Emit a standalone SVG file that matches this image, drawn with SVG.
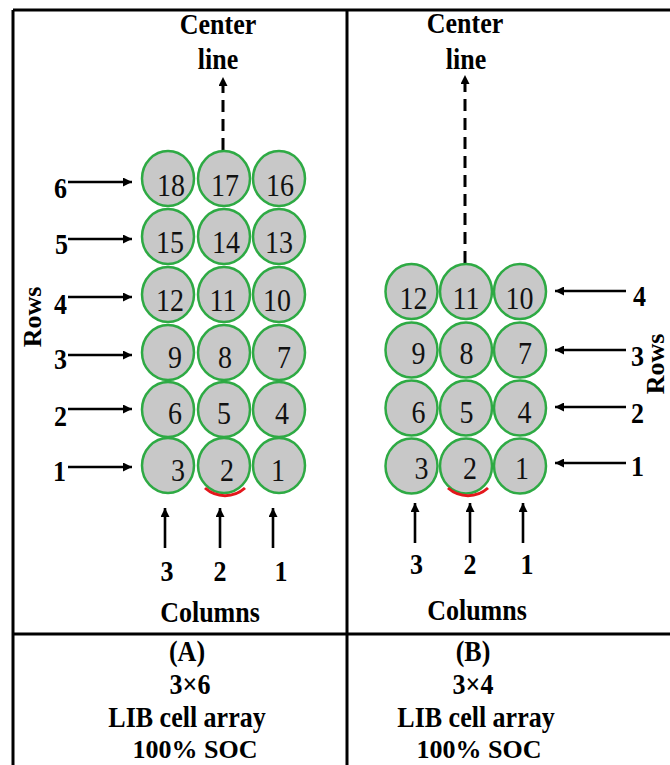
<svg xmlns="http://www.w3.org/2000/svg" width="670" height="765" viewBox="0 0 670 765">
<style>
.cell{fill:#c8c8c8;stroke:#2eaa44;stroke-width:2.5}
.num{font-family:"Liberation Serif",serif;font-size:28px;fill:#111;text-anchor:middle}
.lbl{font-family:"Liberation Serif",serif;font-weight:bold;font-size:26px;fill:#000}
.sy{transform-box:fill-box;transform-origin:center;transform:scaleY(1.12)}
.mid{text-anchor:middle}
.arr{stroke:#000;stroke-width:2.6;fill:none}
.dash{stroke:#000;stroke-width:3;stroke-dasharray:12 7;fill:none}
.red{stroke:#e3171c;stroke-width:3;fill:none}
.frame{stroke:#000;stroke-width:3;fill:none}
</style>
<defs>
<marker id="ah" viewBox="0 0 10 10" refX="10" refY="5" markerWidth="10" markerHeight="9" markerUnits="userSpaceOnUse" orient="auto">
<path d="M0,0 L10,5 L0,10 z" fill="#000"/>
</marker>
</defs>
<rect width="670" height="765" fill="#fff"/>
<g id="frame">
<line class="frame" x1="13" y1="10" x2="670" y2="10"/>
<line class="frame" x1="13" y1="10" x2="13" y2="765"/>
<line class="frame" x1="347" y1="10" x2="347" y2="765"/>
<line class="frame" x1="13" y1="634" x2="670" y2="634"/>
</g>
<g id="connectors">
<line class="dash" x1="223" y1="150" x2="223" y2="77" marker-end="url(#ah)"/>
<line class="dash" x1="465" y1="263" x2="465" y2="75" marker-end="url(#ah)"/>
<line class="arr" x1="68" y1="182" x2="132" y2="182" marker-end="url(#ah)"/>
<line class="arr" x1="68" y1="239" x2="132" y2="239" marker-end="url(#ah)"/>
<line class="arr" x1="68" y1="297" x2="132" y2="297" marker-end="url(#ah)"/>
<line class="arr" x1="68" y1="355" x2="132" y2="355" marker-end="url(#ah)"/>
<line class="arr" x1="68" y1="409" x2="132" y2="409" marker-end="url(#ah)"/>
<line class="arr" x1="68" y1="467" x2="132" y2="467" marker-end="url(#ah)" stroke-width="3.2"/>
<line class="arr" x1="165" y1="548" x2="165" y2="508" marker-end="url(#ah)" stroke-width="3"/>
<line class="arr" x1="220" y1="548" x2="220" y2="508" marker-end="url(#ah)" stroke-width="3"/>
<line class="arr" x1="273" y1="548" x2="273" y2="508" marker-end="url(#ah)" stroke-width="3"/>
<line class="arr" x1="626" y1="291" x2="555" y2="291" marker-end="url(#ah)"/>
<line class="arr" x1="626" y1="350" x2="555" y2="350" marker-end="url(#ah)"/>
<line class="arr" x1="626" y1="407" x2="555" y2="407" marker-end="url(#ah)"/>
<line class="arr" x1="626" y1="463" x2="555" y2="463" marker-end="url(#ah)"/>
<line class="arr" x1="415" y1="543" x2="415" y2="503" marker-end="url(#ah)"/>
<line class="arr" x1="470" y1="543" x2="470" y2="503" marker-end="url(#ah)"/>
<line class="arr" x1="523" y1="543" x2="523" y2="503" marker-end="url(#ah)"/>
</g>
<g id="panelA">
<g id="a18"><ellipse class="cell" cx="168" cy="178.5" rx="26" ry="27.5"/><text class="num sy" x="171" y="195">18</text></g>
<g id="a17"><ellipse class="cell" cx="224" cy="178.5" rx="26" ry="27.5"/><text class="num sy" x="225" y="195">17</text></g>
<g id="a16"><ellipse class="cell" cx="279" cy="178.5" rx="26" ry="27.5"/><text class="num sy" x="280" y="195">16</text></g>
<g id="a15"><ellipse class="cell" cx="168" cy="236.5" rx="26" ry="27.5"/><text class="num sy" x="170" y="252">15</text></g>
<g id="a14"><ellipse class="cell" cx="224" cy="236.5" rx="26" ry="27.5"/><text class="num sy" x="226" y="252">14</text></g>
<g id="a13"><ellipse class="cell" cx="279" cy="236.5" rx="26" ry="27.5"/><text class="num sy" x="279" y="252">13</text></g>
<g id="a12"><ellipse class="cell" cx="168" cy="294.5" rx="26" ry="27.5"/><text class="num sy" x="170" y="310">12</text></g>
<g id="a11"><ellipse class="cell" cx="224" cy="294.5" rx="26" ry="27.5"/><text class="num sy" x="223" y="310">11</text></g>
<g id="a10"><ellipse class="cell" cx="279" cy="294.5" rx="26" ry="27.5"/><text class="num sy" x="277" y="310">10</text></g>
<g id="a9"><ellipse class="cell" cx="168" cy="352.5" rx="26" ry="27.5"/><text class="num sy" x="175" y="367">9</text></g>
<g id="a8"><ellipse class="cell" cx="224" cy="352.5" rx="26" ry="27.5"/><text class="num sy" x="225" y="367">8</text></g>
<g id="a7"><ellipse class="cell" cx="279" cy="352.5" rx="26" ry="27.5"/><text class="num sy" x="284" y="367">7</text></g>
<g id="a6"><ellipse class="cell" cx="168" cy="409.5" rx="26" ry="27.5"/><text class="num sy" x="175" y="423">6</text></g>
<g id="a5"><ellipse class="cell" cx="224" cy="409.5" rx="26" ry="27.5"/><text class="num sy" x="224" y="423">5</text></g>
<g id="a4"><ellipse class="cell" cx="279" cy="409.5" rx="26" ry="27.5"/><text class="num sy" x="282" y="423">4</text></g>
<g id="a3"><ellipse class="cell" cx="168" cy="465.5" rx="26" ry="27.5"/><text class="num sy" x="178" y="480">3</text></g>
<g id="a2"><ellipse class="cell" cx="224" cy="465.5" rx="26" ry="27.5"/><text class="num sy" x="227" y="480">2</text><path class="red" d="M205,488 A30,30 0 0 0 245,488"/></g>
<g id="a1"><ellipse class="cell" cx="279" cy="465.5" rx="26" ry="27.5"/><text class="num sy" x="278" y="480">1</text></g>
<g id="aLabels">
<text class="lbl mid sy" x="218" y="33" font-size="27.5">Center</text>
<text class="lbl mid sy" x="218" y="68" font-size="27.5">line</text>
<text class="lbl sy" x="67" y="197" text-anchor="end">6</text>
<text class="lbl sy" x="68" y="253" text-anchor="end">5</text>
<text class="lbl sy" x="67" y="313" text-anchor="end">4</text>
<text class="lbl sy" x="67" y="368" text-anchor="end">3</text>
<text class="lbl sy" x="67" y="425" text-anchor="end">2</text>
<text class="lbl sy" x="66" y="480" text-anchor="end">1</text>
<text class="lbl mid" transform="translate(41,317) rotate(-90)" font-size="30">Rows</text>
<text class="lbl mid sy" x="167" y="580">3</text>
<text class="lbl mid sy" x="220" y="580">2</text>
<text class="lbl mid sy" x="281" y="580">1</text>
<text class="lbl mid sy" x="210" y="621" font-size="31">Columns</text>
</g>
</g>
<g id="panelB">
<g id="b12"><ellipse class="cell" cx="411.5" cy="291.5" rx="26" ry="27.5"/><text class="num sy" x="413.5" y="308">12</text></g>
<g id="b11"><ellipse class="cell" cx="466" cy="291.5" rx="26" ry="27.5"/><text class="num sy" x="466" y="308">11</text></g>
<g id="b10"><ellipse class="cell" cx="520" cy="291.5" rx="26" ry="27.5"/><text class="num sy" x="519.5" y="308">10</text></g>
<g id="b9"><ellipse class="cell" cx="411.5" cy="350" rx="26" ry="27.5"/><text class="num sy" x="418.5" y="363">9</text></g>
<g id="b8"><ellipse class="cell" cx="466" cy="350" rx="26" ry="27.5"/><text class="num sy" x="466.5" y="363">8</text></g>
<g id="b7"><ellipse class="cell" cx="520" cy="350" rx="26" ry="27.5"/><text class="num sy" x="525" y="363">7</text></g>
<g id="b6"><ellipse class="cell" cx="411.5" cy="408" rx="26" ry="27.5"/><text class="num sy" x="418.5" y="422">6</text></g>
<g id="b5"><ellipse class="cell" cx="466" cy="408" rx="26" ry="27.5"/><text class="num sy" x="466.5" y="422">5</text></g>
<g id="b4"><ellipse class="cell" cx="520" cy="408" rx="26" ry="27.5"/><text class="num sy" x="524.5" y="422">4</text></g>
<g id="b3"><ellipse class="cell" cx="411.5" cy="466" rx="26" ry="27.5"/><text class="num sy" x="421.5" y="478">3</text></g>
<g id="b2"><ellipse class="cell" cx="466" cy="466" rx="26" ry="27.5"/><text class="num sy" x="470" y="478">2</text><path class="red" d="M448,488 A30,30 0 0 0 488,488"/></g>
<g id="b1"><ellipse class="cell" cx="520" cy="466" rx="26" ry="27.5"/><text class="num sy" x="522" y="478">1</text></g>
<g id="bLabels">
<text class="lbl mid sy" x="465" y="32" font-size="27.5">Center</text>
<text class="lbl mid sy" x="466" y="68" font-size="27.5">line</text>
<text class="lbl sy" x="633" y="305">4</text>
<text class="lbl sy" x="631" y="365">3</text>
<text class="lbl sy" x="631" y="422">2</text>
<text class="lbl sy" x="631" y="475">1</text>
<text class="lbl mid" transform="translate(664,364) rotate(-90)" font-size="28">Rows</text>
<text class="lbl mid sy" x="416.5" y="573">3</text>
<text class="lbl mid sy" x="470" y="573">2</text>
<text class="lbl mid sy" x="527" y="573">1</text>
<text class="lbl mid sy" x="477" y="619" font-size="30">Columns</text>
</g>
</g>
<g id="captionA">
<text class="lbl mid sy" x="187" y="660">(A)</text>
<text class="lbl mid sy" x="190" y="693">3×6</text>
<text class="lbl mid sy" x="187" y="726">LIB cell array</text>
<text class="lbl mid" x="195" y="758">100% SOC</text>
</g>
<g id="captionB">
<text class="lbl mid sy" x="473" y="660">(B)</text>
<text class="lbl mid sy" x="473" y="693">3×4</text>
<text class="lbl mid sy" x="476" y="726">LIB cell array</text>
<text class="lbl mid" x="479" y="758">100% SOC</text>
</g>
</svg>
